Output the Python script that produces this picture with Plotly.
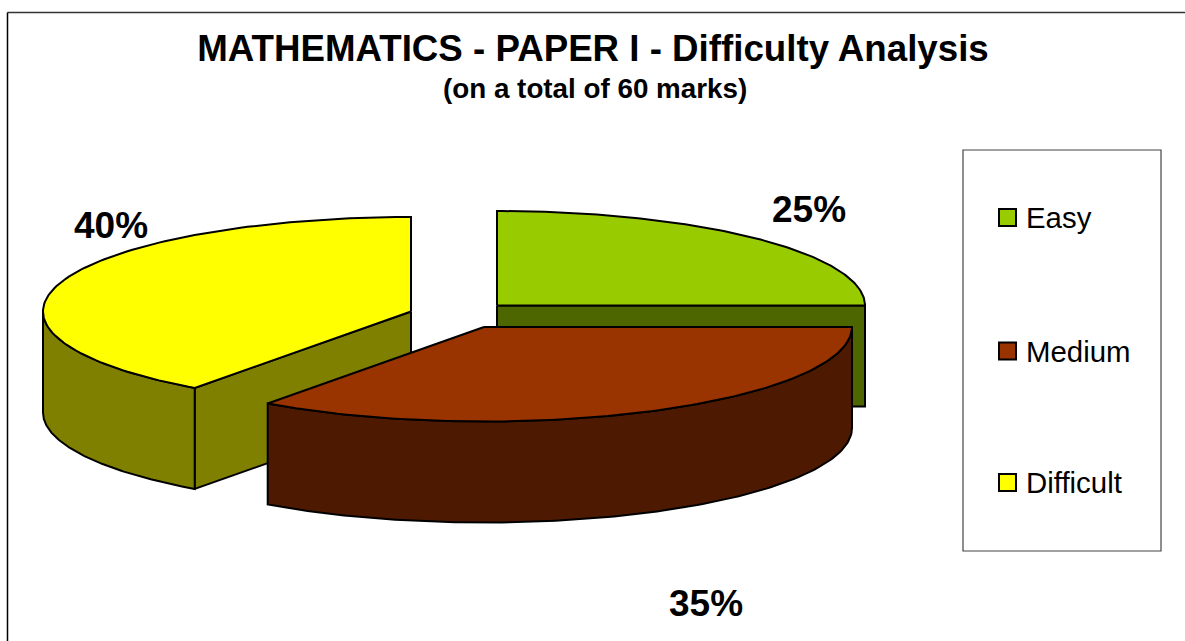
import numpy as np
import plotly.graph_objects as go

categories = ["Easy", "Medium", "Difficult"]
shares = [25, 35, 40]
top_colors = ["#99CC00", "#993300", "#FFFF00"]
side_colors = ["#4D6600", "#4D1900", "#808000"]

# exploded wedge geometry, in picture pixels
centres = {"Easy": (497, 305.5), "Medium": (484, 327), "Difficult": (411, 311.5)}
RX, RY, DEPTH = 368, 94.5, 101
draw_order = ["Easy", "Difficult", "Medium"]
FONT = "Liberation Sans"
W, H = 1185, 641
EDGE = 2


def arc(cx, cy, a0, a1, dy=0.0):
    t = np.radians(np.linspace(a0, a1, 121))
    return cx + RX * np.sin(t), cy - RY * np.cos(t) + dy


fig = go.Figure()
starts = np.cumsum([0] + shares[:-1]) * 3.6
ends = np.cumsum(shares) * 3.6

for name in draw_order:
    i = categories.index(name)
    a0, a1 = float(starts[i]), float(ends[i])
    cx, cy = centres[name]
    polys = []
    # radial cut faces turned towards the viewer
    for ang, visible in ((a0, np.sin(np.radians(a0)) < -1e-9), (a1, np.sin(np.radians(a1)) > 1e-9)):
        if visible:
            ex, ey = arc(cx, cy, ang, ang)
            polys.append(([cx, ex[0], ex[0], cx, cx],
                          [cy, ey[0], ey[0] + DEPTH, cy + DEPTH, cy]))
    # outer wall
    lo, hi = max(a0, 90.0), min(a1, 270.0)
    if hi > lo:
        x1, y1 = arc(cx, cy, lo, hi)
        polys.append((list(x1) + list(x1[::-1]) + [x1[0]],
                      list(y1) + list((y1 + DEPTH)[::-1]) + [y1[0]]))
    for px, py in polys:
        fig.add_trace(go.Scatter(x=px, y=py, mode="lines", fill="toself",
                                 fillcolor=side_colors[i], line=dict(color="black", width=EDGE),
                                 hoverinfo="skip", showlegend=False))
    # top face
    xt, yt = arc(cx, cy, a0, a1)
    fig.add_trace(go.Scatter(x=[cx] + list(xt) + [cx], y=[cy] + list(yt) + [cy],
                             mode="lines", fill="toself", fillcolor=top_colors[i],
                             line=dict(color="black", width=EDGE), name=name,
                             hovertemplate=f"{name}: {shares[i]}%<extra></extra>",
                             showlegend=False))

# legend, drawn to the reference's tall box
legend_y = [217.5, 351, 482.5]
fig.add_trace(go.Scatter(x=[1007.5] * 3, y=legend_y, mode="markers",
                         marker=dict(symbol="square", size=17, color=top_colors,
                                     line=dict(color="black", width=2)),
                         hoverinfo="skip", showlegend=False, cliponaxis=False))

label_pos = [(809, 209), (706, 603), (111, 225)]
annotations = [dict(x=x, y=y, text=f"<b>{s}%</b>", showarrow=False, xref="x", yref="y",
                    font=dict(family=FONT, size=37, color="black"))
               for (x, y), s in zip(label_pos, shares)]
annotations.append(dict(x=594.5, y=88, xref="x", yref="y", showarrow=False,
                        text="<b>(on a total of 60 marks)</b>",
                        font=dict(family=FONT, size=27.8, color="black")))
annotations += [dict(x=1027, y=y, xref="x", yref="y", xanchor="left", showarrow=False,
                     text=c, xshift=-3, font=dict(family=FONT, size=29.4, color="black"))
                for c, y in zip(categories, legend_y)]

shapes = [
    dict(type="line", x0=7.5, x1=W, y0=12.5, y1=12.5, line=dict(color="#333333", width=1.5), layer="below"),
    dict(type="line", x0=7.5, x1=7.5, y0=12.5, y1=H, line=dict(color="black", width=1.5), layer="below"),
    dict(type="rect", x0=963, x1=1161, y0=150, y1=551, line=dict(color="#444444", width=1.2), layer="below"),
]

fig.update_layout(
    width=W, height=H, autosize=False,
    margin=dict(l=0, r=0, t=0, b=0),
    paper_bgcolor="white", plot_bgcolor="white",
    title=dict(text="<b>MATHEMATICS - PAPER I - Difficulty Analysis</b>",
               x=593 / W, xanchor="center", y=1 - 48 / H, yanchor="middle",
               font=dict(family=FONT, size=36.7, color="black")),
    xaxis=dict(range=[0, W], visible=False, fixedrange=True),
    yaxis=dict(range=[H, 0], visible=False, fixedrange=True),
    annotations=annotations, shapes=shapes, showlegend=False,
)
fig.write_html("out.html", config=dict(displayModeBar=False),
               post_script="document.body.style.margin='0';")
